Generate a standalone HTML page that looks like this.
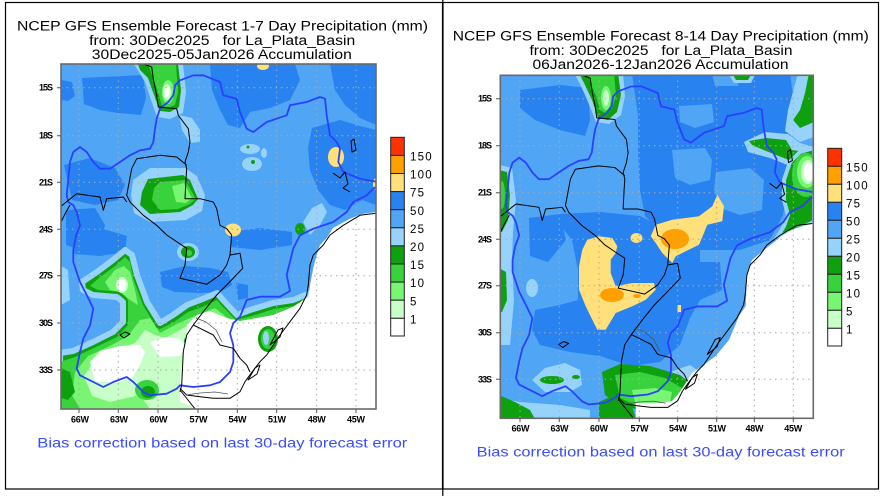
<!DOCTYPE html>
<html><head><meta charset="utf-8"><style>
html,body{margin:0;padding:0;background:#fff;}
svg{display:block;font-family:"Liberation Sans",sans-serif;}
.t{font-size:13.5px;fill:#000;}
.b{font-size:13.5px;fill:#3a4cff;}
.lat{font-size:9px;fill:#000;font-weight:bold;}
.cb{font-size:11.5px;fill:#000;}
</style></head><body>
<svg width="885" height="496" viewBox="0 0 885 496" xmlns="http://www.w3.org/2000/svg">
<defs>
<clipPath id="cL"><rect x="61" y="64" width="315" height="345"/></clipPath>
<clipPath id="cR"><rect x="500.3" y="75.3" width="313" height="343"/></clipPath>
<g id="ln" clip-path="url(#cL)" fill="none" stroke-linejoin="round">
<path stroke="#2a40ff" stroke-width="1.8" d="M193.3,75.3 L180,80.3 L175,85.3 L173.3,95.3 L168.3,102 L161.7,107 L160,108.7 L156.7,118.7 L155,128.7 L153.3,142 L150,148.7 L140,150.3 L130,155.3 L120,162 L110,168.7 L100,168.7 L93.3,162 L86.7,152 L80,147 L73.3,152 L70,162 L68.3,178.7 L66.7,195.3 L68.3,202 L73.3,205.3 L76.7,212 L80,225.3 L76,236 L73.3,250 L73.3,262 L80,282 L86.7,295 L93.3,308.7 L90,325.3 L83.3,338.7 L80,352 L76.7,368.7 L80,375.3 L93.3,382 L103.3,387 L113.3,382 L126.7,377 L133.3,382 L143.3,392 L150,395.3 L166.7,393.7 L176.7,388.7 L180,385.3 L193.3,387 L210,385.3 L220,382 L230,372 L233.3,362 L233.3,345.3 L230,333.3 L233.3,323.3 L240,316.7 L246.7,300 L260,296.7 L280,296.7 L290,291 L286.7,275 L290,261.7 L293.3,248.3 L300,235.3 L313.3,228.7 L333.3,222 L346.7,212 L353.3,202 L366.7,195.3 L373.3,188.7 L378,186"/>
<path stroke="#2a40ff" stroke-width="1.8" d="M378,182 L360,178.7 L343.3,172 L338.3,162 L340,148.7 L336.7,142 L330,135.3 L326.7,115.3 L325,98.7 L320,97 L306.7,102 L290,105.3 L286.7,115.3 L266.7,122 L253.3,132 L246.7,128.7 L240,112 L236.7,98.7 L223.3,95.3 L220,82 L203.3,75.3 L193.3,75.3"/>
<g stroke="#000" stroke-width="1">
<path d="M138.3,62 L151.7,67 L153.3,78.7 L156.7,95.3 L158.3,107 L176.7,108.7 L178.3,115.3 L183.3,122 L188.3,128.7 L190,142 L188.3,152 L185,162 L186.7,168.7 L186,178.7 L185,198.7 L200,198.7 L213.3,202 L216.7,208.7 L220,225.3 L226.7,228.7 L231.7,235"/>
<path d="M186.7,165.3 L176.7,157 L160,155.3 L136.7,158.7 L131.7,168.7 L126.7,195.3 L130,202 L143.3,215.3 L156.7,225.3 L166.7,235 L176.7,241.7 L186.7,248.3 L185,265 L180,278.3 L206.7,284.3 L220,275 L226.7,265 L230,255 L231.7,235"/>
<path d="M58,208.7 L76.7,193.7 L100,197 L103.3,210.3 L106.7,198.7 L123.3,197 L126.7,202"/>
<path d="M61,222 L66,212 L70,205"/>
<path d="M230,255 L240,253.3 L242.7,268.3 L226.7,285 L216.7,295 L203.3,311.7 L193.3,325 L186.7,335 L183.3,351.7 L181.7,385 L180,391.7"/>
<path d="M193.3,325 L200,328.3 L213.3,335 L220,345 L233.3,348.3 L240,358.3 L246.7,365 L250,372"/>
<path d="M180,388.3 L186.7,395 L200,396.7 L213.3,398.3 L230,398.3 L240,391.7 L245,381.7"/>
<path d="M180,390 L188,400 L196.7,411"/>
<path d="M245,381.7 L252,372 L260,361.7 L266.7,355 L273.3,345 L280,335 L290,321.7 L300,308.3 L306.7,295 L308.3,285 L310,265 L313.3,255 L323.3,245 L330,235 L343.3,225.3 L360,215.3 L378,213"/>
<path d="M248,380 L255,368 L260,365 L257,374 Z"/>
<path d="M270,345 L278,330 L283,328 L280,337 Z"/>
<path d="M351,141 L354,139 L356,150 L352,152 Z"/>
<path d="M333,173 L340,178 L345,172 L348,184 L343,188 L350,192"/>
<path d="M120,335 L125,332 L130,334 L124,338 Z"/>
</g>
<path stroke="#555" stroke-width="0.8" d="M196,318 L206,322 L216,330 L222,342 M186,395 L200,393 L215,392 L228,394"/>
</g>
</defs>

<!-- panel frames -->
<g fill="none" stroke="#000" stroke-width="1.2">
<rect x="5.5" y="2.5" width="437" height="486.5"/>
<rect x="443" y="2.5" width="435.5" height="486.5"/>
<line x1="442.8" y1="0" x2="442.8" y2="496"/>
</g>

<!-- ===== LEFT MAP FIELDS ===== -->
<g clip-path="url(#cL)">
<rect x="61" y="64" width="315" height="345" fill="#50a5f5"/>
<g fill="#2882f0">
<polygon points="61,80 72,82 75,96 68,101 61,100"/>
<polygon points="82,78 143,75 146,98 141,115 118,113 100,110 84,104"/>
<polygon points="210,64 295,64 300,80 290,100 270,108 250,112 240,128 228,125 220,110 212,90"/>
<polygon points="330,64 376,64 376,125 360,118 345,105 335,90"/>
<polygon points="312,128 340,120 360,126 376,130 376,205 362,200 345,210 330,205 318,190 310,170 308,148"/>
<polygon points="64,165 90,158 115,168 125,185 118,200 95,205 72,200"/>
<polygon points="66,210 95,208 105,225 100,245 80,250 66,245"/>
<polygon points="66,232 100,228 127,236 125,252 100,256 75,254"/>
<polygon points="160,272 185,266 210,268 228,272 232,285 220,292 200,293 175,292 162,287"/>
<polygon points="228,232 260,228 292,232 292,245 260,250 232,247"/>
<polygon points="236,283 248,285 248,298 238,300"/>
</g>
<g fill="#96d2fa">
<polygon points="133,180 150,168 185,168 197,176 205,195 202,211 186,220 150,222 134,213 131,195"/>
<polygon points="179,115 192,118 200,130 200,142 190,143 182,130"/>
<ellipse cx="250" cy="149" rx="10" ry="5"/>
<ellipse cx="252" cy="164" rx="10" ry="7"/>
<ellipse cx="264" cy="153" rx="3" ry="5"/>
<polygon points="303,222 312,208 322,203 327,212 320,225 310,235"/>
<polygon points="134,64 183,64 186,92 183,113 170,119 157,117 151,100 145,82"/>
<polygon points="61,266 68,270 70,300 61,305"/>
<ellipse cx="188" cy="252" rx="11" ry="9"/>
</g>
<polygon fill="#0fa00f" points="138,64 178,64 181,90 179,107 170,112 160,111 154,95 148,78 140,70"/>
<polygon fill="#37d23c" points="148,64 176,64 178,92 175,105 168,108 162,106 158,92 152,75"/>
<ellipse cx="168" cy="92" rx="6" ry="12" fill="#78f573"/>
<ellipse cx="167" cy="92" rx="4" ry="8" fill="#c8ffc8"/>
<ellipse cx="167" cy="92" rx="2.5" ry="5" fill="#fff"/>
<polygon fill="#0fa00f" points="142,192 148,179 183,175 190,180 198,199 193,205 180,212 150,214 140,205"/>
<polygon fill="#37d23c" points="154,188 160,182 185,180 196,199 190,204 178,209 160,210 152,200"/>
<polygon fill="#78f573" points="172,186 184,183 192,198 186,203 176,202"/>
<ellipse cx="188" cy="252" rx="7" ry="6" fill="#0fa00f"/>
<ellipse cx="189" cy="253" rx="3" ry="3" fill="#37d23c"/>
<ellipse cx="300" cy="229" rx="5" ry="6" fill="#0fa00f"/>
<ellipse cx="248" cy="147" rx="1.5" ry="1.5" fill="#0fa00f"/>
<ellipse cx="253" cy="162" rx="2" ry="2" fill="#0fa00f"/>
<g fill="#ffe07a">
<ellipse cx="263" cy="66" rx="6" ry="4"/>
<ellipse cx="336" cy="157" rx="8" ry="10"/>
<ellipse cx="376" cy="184" rx="3" ry="6"/>
<ellipse cx="233" cy="230" rx="8" ry="6.5"/>
</g>
<polygon fill="#0fa00f" stroke="#96d2fa" stroke-width="6" stroke-linejoin="round" points="60,353 73,351 93,342 113,332 123,322 123,302 117,297 93,295 83,290 82,282 97,272 113,260 125,250 132,255 137,275 147,302 160,323 173,315 187,305 200,300 217,293 223,300 237,315 250,310 273,303 293,300 308,294 308,300 300,310 293,318 287,332 277,345 267,355 260,362 252,372 245,382 196,409 61,409"/>
<polygon fill="#37d23c" points="60,362 75,357 96,347 117,337 128,325 128,300 122,292 98,290 90,286 100,277 115,266 125,257 130,262 133,278 143,305 158,330 174,322 188,312 202,307 217,300 222,306 236,320 252,316 274,309 294,306 303,300 296,312 288,325 280,340 270,350 262,360 250,372 243,382 196,409 61,409"/>
<polygon fill="#78f573" points="105,282 115,270 124,266 130,272 135,290 138,305 130,300 120,292 110,290"/>
<polygon fill="#78f573" points="75,372 88,356 110,346 128,336 140,320 150,318 160,333 175,325 190,318 205,312 215,308 220,312 230,320 230,409 80,409 72,395"/>
<polygon fill="#c8ffc8" points="84,376 96,358 118,349 135,343 145,330 155,335 165,338 180,330 195,322 212,317 220,322 225,409 150,409 140,395 110,402 92,396"/>
<ellipse cx="122" cy="285" rx="6" ry="8" fill="#c8ffc8"/>
<ellipse cx="122" cy="285" rx="4" ry="6" fill="#fff"/>
<polygon fill="#fff" points="90,362 100,351 120,346 140,345 145,352 140,365 132,378 115,383 95,381"/>
<polygon fill="#fff" points="150,342 165,337 180,339 186,348 180,356 160,357"/>
<ellipse cx="147" cy="390" rx="12" ry="10" fill="#37d23c"/>
<ellipse cx="148" cy="392" rx="7" ry="6" fill="#0fa00f"/>
<polygon fill="#0fa00f" points="61,368 70,372 75,392 68,400 61,398"/>
<ellipse cx="190" cy="341" rx="6" ry="5" fill="#0fa00f"/>
<polygon fill="#fff" points="186.7,325 196.7,315 210,311 226.7,318 240,321 256.7,318 273.3,315 293.3,306.7 308.3,296.7 310,285 313.3,268.3 316.7,255 320,245 326.7,238 333,228 350,218.7 362,214 376,212 376,409 196,409 180,401.7 180,381.7 183.3,355 186.7,335"/>
<ellipse cx="268" cy="339" rx="10" ry="13" fill="#0fa00f"/>
<ellipse cx="268" cy="339" rx="7" ry="10" fill="#37d23c"/>
<ellipse cx="266" cy="338" rx="3" ry="7" fill="#96d2fa"/>
<g stroke="#aaa" stroke-width="1" stroke-dasharray="1.5,4">
<path d="M61,87.7H376M61,135.7H376M61,182.3H376M61,229.3H376M61,275.7H376M61,323H376M61,370H376"/>
<path d="M79,64V409M118.3,64V409M158,64V409M198,64V409M237.3,64V409M276.7,64V409M316.7,64V409M356,64V409"/>
</g>
</g>
<use href="#ln"/>
<rect x="61" y="64" width="315" height="345" fill="none" stroke="#6a6a6a" stroke-width="1.6"/>
<g stroke="#555" stroke-width="1">
<path d="M57,87.7H61M57,135.7H61M57,182.3H61M57,229.3H61M57,275.7H61M57,323H61M57,370H61"/>
<path d="M79,409V413M118.3,409V413M158,409V413M198,409V413M237.3,409V413M276.7,409V413M316.7,409V413M356,409V413"/>
</g>

<!-- ===== RIGHT MAP FIELDS ===== -->
<g clip-path="url(#cR)">
<rect x="500" y="75" width="314" height="344" fill="#50a5f5"/>
<g fill="#2882f0">
<polygon points="520,90 560,85 588,88 590,120 585,136 560,130 535,120 520,108"/>
<polygon points="632,74 790,74 795,110 790,140 790,175 783,215 770,240 740,250 700,250 690,232 670,224 655,226 645,216 640,190 638,150 638,115"/>
<polygon points="560,214 600,212 640,216 660,226 690,234 700,250 700,262 720,262 722,290 700,300 690,318 680,345 660,362 630,366 600,356 570,352 540,345 532,330 535,310 560,305 578,300 578,270 572,240 560,225"/>
<polygon points="529,218 560,214 566,240 548,262 530,256"/>
</g>
<g fill="#50a5f5">
<polygon points="679,106 712,104 714,122 695,128 680,122"/>
<polygon points="672,150 705,148 712,160 710,180 690,185 675,178"/>
<polygon points="716,172 750,168 764,180 762,210 740,215 720,208 714,190"/>
<polygon points="712,74 740,74 738,86 715,86"/>
</g>
<g fill="#96d2fa">
<polygon points="500,165 512,168 516,200 513,232 512,260 514,300 510,345 500,345"/>
<ellipse cx="532" cy="288" rx="6" ry="9"/>
<polygon points="532,380 545,368 565,363 580,370 582,385 570,392 545,392"/>
<polygon points="670,372 690,365 700,372 695,385 680,385"/>
<polygon points="499,398 520,402 560,405 590,410 590,419 499,419"/>
<polygon points="574,73 623,73 625,96 621,115 609,124 596,122 588,102 581,86"/>
<polygon points="728,73 756,73 751,83 734,83"/>
<polygon points="798,73 814,73 814,137 800,142 785,131 788,110"/>
<polygon points="744,142 765,132 788,134 800,143 814,147 814,165 795,168 770,158 748,152"/>
</g>
<polygon fill="#0fa00f" points="579,73 618,73 621,95 617,112 608,120 598,118 592,100 585,85"/>
<polygon fill="#37d23c" points="588,73 614,73 616,96 612,108 605,113 600,110 596,96 590,82"/>
<ellipse cx="606" cy="98" rx="5" ry="12" fill="#78f573"/>
<ellipse cx="606" cy="98" rx="3" ry="8" fill="#c8ffc8"/>
<polygon fill="#0fa00f" points="732,73 752,73 748,80 736,80"/>
<polygon fill="#0fa00f" points="809,73 814,73 814,122 800,128 793,120 800,110 805,93"/>
<polygon fill="#0fa00f" points="749,141 766,138 786,140 792,150 812,153 800,158 789,160 766,151 752,145"/>
<polygon fill="#0fa00f" stroke="#96d2fa" stroke-width="4" points="814,148 800,152 790,162 784,180 784,200 788,215 784,226 778,236 792,232 805,226 814,222"/>
<ellipse cx="806" cy="175" rx="14" ry="22" fill="#37d23c"/>
<ellipse cx="807" cy="172" rx="10" ry="16" fill="#78f573"/>
<ellipse cx="808" cy="172" rx="7" ry="12" fill="#c8ffc8"/>
<ellipse cx="809" cy="172" rx="5" ry="9" fill="#fff"/>
<polygon fill="#0fa00f" points="499,170 507,172 510,195 508,220 502,232 499,232"/>
<ellipse cx="502" cy="195" rx="3" ry="14" fill="#37d23c"/>
<polygon fill="#0fa00f" points="499,268 506,272 507,300 502,312 499,312"/>
<polygon fill="#0fa00f" points="499,395 515,402 530,410 535,419 499,419"/>
<ellipse cx="552" cy="380" rx="12" ry="4" fill="#0fa00f"/>
<ellipse cx="576" cy="377" rx="4" ry="2" fill="#0fa00f"/>
<polygon fill="#0fa00f" points="602,372 620,364 650,366 680,375 690,383 688,395 675,405 660,408 640,410 620,405 605,395"/>
<polygon fill="#0fa00f" points="599,402 612,396 630,400 636,419 599,419"/>
<polygon fill="#37d23c" points="615,375 640,372 665,378 682,388 678,400 660,405 635,405 620,398"/>
<polygon fill="#78f573" points="632,390 655,388 672,392 670,402 650,405 635,402"/>
<g fill="#ffe07a">
<polygon points="717.3,194.7 724,206.3 722.3,221.3 707.3,224.7 704,233 699,244.7 685.7,251.3 675.7,256.3 672.3,263 669,259.7 662.3,253 655.7,243 650.7,236.3 655.7,224.7 672.3,219.7 699,216.3 712.3,206.3"/>
<ellipse cx="636.5" cy="238" rx="6" ry="5"/>
<polygon points="587.3,239.7 599,236.3 612.3,238 617.3,246.3 615.7,253 610.7,259.7 610.7,273 615.7,286.3 632.3,283 654,283 655.7,289.7 645.7,299.7 632.3,306.3 615.7,313 605.7,329.7 597.3,329.7 592.3,319.7 585.7,306.3 579,289.7 579,266.3 582.3,249.7"/>
<rect x="677.5" y="305" width="3.5" height="7"/>
</g>
<g fill="#ffa000">
<ellipse cx="675" cy="239" rx="14" ry="10"/>
<ellipse cx="612" cy="295" rx="12" ry="7"/>
<ellipse cx="637" cy="296" rx="4" ry="2"/>
</g>
<polygon fill="#fff" points="814,223 792,229.7 782,236 769,246 752,260 747,273 745.7,306 739,316 729,340 715.7,356 702,366 692,373 685.7,383 679,393 672,401 659,403 635.7,403 635.7,419 814,419"/>
<g stroke="#aaa" stroke-width="1" stroke-dasharray="1.5,4">
<path d="M500,98.7H813M500,145.7H813M500,192.7H813M500,239.3H813M500,285.7H813M500,332.7H813M500,379.3H813"/>
<path d="M520,75V418M559.3,75V418M599,75V418M639.3,75V418M677.7,75V418M716.7,75V418M754.3,75V418M793.3,75V418"/>
</g>
</g>
<use href="#ln" transform="matrix(0.99,0,0,0.994,440,11.5)"/>
<rect x="500.3" y="75.3" width="313" height="343" fill="none" stroke="#6a6a6a" stroke-width="1.6"/>
<g stroke="#555" stroke-width="1">
<path d="M496,98.7H500M496,145.7H500M496,192.7H500M496,239.3H500M496,285.7H500M496,332.7H500M496,379.3H500"/>
<path d="M520,418V422M559.3,418V422M599,418V422M639.3,418V422M677.7,418V422M716.7,418V422M754.3,418V422M793.3,418V422"/>
</g>

<!-- colorbars -->
<g stroke="#222" stroke-width="1">
<rect x="390.7" y="137.3" width="13.6" height="18.1" fill="#ff3200"/>
<rect x="390.7" y="155.4" width="13.6" height="18.1" fill="#ffa000"/>
<rect x="390.7" y="173.5" width="13.6" height="18.1" fill="#ffe07a"/>
<rect x="390.7" y="191.6" width="13.6" height="18.1" fill="#2882f0"/>
<rect x="390.7" y="209.7" width="13.6" height="18.1" fill="#50a5f5"/>
<rect x="390.7" y="227.8" width="13.6" height="18.1" fill="#96d2fa"/>
<rect x="390.7" y="245.9" width="13.6" height="18.1" fill="#0fa00f"/>
<rect x="390.7" y="264" width="13.6" height="18.1" fill="#37d23c"/>
<rect x="390.7" y="282.1" width="13.6" height="18.1" fill="#78f573"/>
<rect x="390.7" y="300.2" width="13.6" height="18.1" fill="#c8ffc8"/>
<rect x="390.7" y="318.3" width="13.6" height="17.7" fill="#fff"/>
<rect x="827.7" y="148.3" width="14" height="18" fill="#ff3200"/>
<rect x="827.7" y="166.3" width="14" height="18" fill="#ffa000"/>
<rect x="827.7" y="184.3" width="14" height="18" fill="#ffe07a"/>
<rect x="827.7" y="202.3" width="14" height="18" fill="#2882f0"/>
<rect x="827.7" y="220.3" width="14" height="18" fill="#50a5f5"/>
<rect x="827.7" y="238.3" width="14" height="18" fill="#96d2fa"/>
<rect x="827.7" y="256.3" width="14" height="18" fill="#0fa00f"/>
<rect x="827.7" y="274.3" width="14" height="18" fill="#37d23c"/>
<rect x="827.7" y="292.3" width="14" height="18" fill="#78f573"/>
<rect x="827.7" y="310.3" width="14" height="18" fill="#c8ffc8"/>
<rect x="827.7" y="328.3" width="14" height="17.7" fill="#fff"/>
</g>
<g class="cb">
<text x="410" y="160.5" textLength="21.7">150</text>
<text x="410" y="178.6" textLength="21.7">100</text>
<text x="410" y="196.7" textLength="14">75</text>
<text x="410" y="214.8" textLength="14">50</text>
<text x="410" y="232.9" textLength="14">25</text>
<text x="410" y="251" textLength="14">20</text>
<text x="410" y="269.1" textLength="14">15</text>
<text x="410" y="287.2" textLength="14">10</text>
<text x="410" y="305.3">5</text>
<text x="410" y="323.4">1</text>
<text x="846" y="171.3" textLength="21.7">150</text>
<text x="846" y="189.3" textLength="21.7">100</text>
<text x="846" y="207.3" textLength="14">75</text>
<text x="846" y="225.3" textLength="14">50</text>
<text x="846" y="243.3" textLength="14">25</text>
<text x="846" y="261.3" textLength="14">20</text>
<text x="846" y="279.3" textLength="14">15</text>
<text x="846" y="297.3" textLength="14">10</text>
<text x="846" y="315.3">5</text>
<text x="846" y="333.3">1</text>
</g>

<g class="lat" text-anchor="end">
<text x="53" y="90.7" textLength="14">15S</text>
<text x="53" y="138.7" textLength="14">18S</text>
<text x="53" y="185.3" textLength="14">21S</text>
<text x="53" y="232.3" textLength="14">24S</text>
<text x="53" y="278.7" textLength="14">27S</text>
<text x="53" y="326" textLength="14">30S</text>
<text x="53" y="373" textLength="14">33S</text>
<text x="492" y="101.7" textLength="14">15S</text>
<text x="492" y="148.7" textLength="14">18S</text>
<text x="492" y="195.7" textLength="14">21S</text>
<text x="492" y="242.3" textLength="14">24S</text>
<text x="492" y="288.7" textLength="14">27S</text>
<text x="492" y="335.7" textLength="14">30S</text>
<text x="492" y="382.3" textLength="14">33S</text>
</g>
<g class="lat" text-anchor="middle">
<text x="80" y="422.3" textLength="18">66W</text>
<text x="119" y="422.3" textLength="18">63W</text>
<text x="158.5" y="422.3" textLength="18">60W</text>
<text x="198.5" y="422.3" textLength="18">57W</text>
<text x="237.5" y="422.3" textLength="18">54W</text>
<text x="277" y="422.3" textLength="18">51W</text>
<text x="316.7" y="422.3" textLength="18">48W</text>
<text x="356" y="422.3" textLength="18">45W</text>
<text x="520.5" y="431.7" textLength="18">66W</text>
<text x="559.5" y="431.7" textLength="18">63W</text>
<text x="599" y="431.7" textLength="18">60W</text>
<text x="639.5" y="431.7" textLength="18">57W</text>
<text x="678" y="431.7" textLength="18">54W</text>
<text x="717" y="431.7" textLength="18">51W</text>
<text x="754.5" y="431.7" textLength="18">48W</text>
<text x="793.3" y="431.7" textLength="18">45W</text>
</g>

<g class="t" text-anchor="middle">
<text x="222.5" y="30.7" textLength="411" lengthAdjust="spacingAndGlyphs">NCEP GFS Ensemble Forecast 1-7 Day Precipitation (mm)</text>
<text x="222.2" y="45" textLength="266" lengthAdjust="spacingAndGlyphs">from: 30Dec2025&#160;&#160;&#160;for La_Plata_Basin</text>
<text x="221.8" y="59" textLength="260" lengthAdjust="spacingAndGlyphs">30Dec2025-05Jan2026 Accumulation</text>
<text x="660.8" y="40.7" textLength="416" lengthAdjust="spacingAndGlyphs">NCEP GFS Ensemble Forecast 8-14 Day Precipitation (mm)</text>
<text x="661" y="55" textLength="263" lengthAdjust="spacingAndGlyphs">from: 30Dec2025&#160;&#160;&#160;for La_Plata_Basin</text>
<text x="660.5" y="69" textLength="256" lengthAdjust="spacingAndGlyphs">06Jan2026-12Jan2026 Accumulation</text>
</g>
<text class="b" x="37.3" y="447.7" textLength="370" lengthAdjust="spacingAndGlyphs">Bias correction based on last 30-day forecast error</text>
<text class="b" x="476.7" y="456.7" textLength="368" lengthAdjust="spacingAndGlyphs">Bias correction based on last 30-day forecast error</text>
</svg>
</body></html>
